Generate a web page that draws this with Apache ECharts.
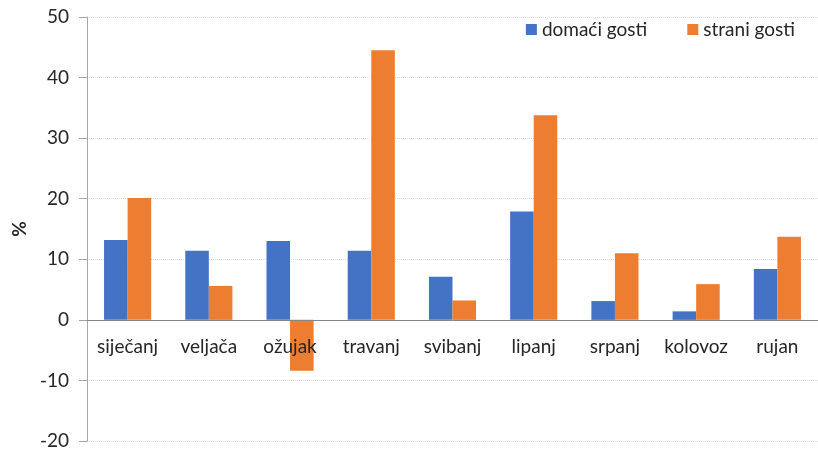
<!DOCTYPE html>
<html>
<head>
<meta charset="utf-8">
<script src="https://cdn.jsdelivr.net/npm/echarts@6/dist/echarts.min.js"></script>
<style>
  html, body { margin: 0; padding: 0; background: #fff; }
  #chart { width: 818px; height: 453px; }
</style>
</head>
<body>
<div id="chart"></div>
<script>
  // podaci
  var months = ['siječanj', 'veljača', 'ožujak', 'travanj', 'svibanj', 'lipanj', 'srpanj', 'kolovoz', 'rujan'];
  var domaci = [13.2, 11.4, 13.0, 11.4, 7.1, 17.9, 3.1, 1.4, 8.4];
  var strani = [20.1, 5.6, -8.4, 44.5, 3.2, 33.8, 11.0, 5.9, 13.7];
  var seriesNames = ['domaći gosti', 'strani gosti'];

  var chart = echarts.init(document.getElementById('chart'));
  var font = 'Lato, "Open Sans", sans-serif';

  var option = {
    animation: false,
    color: ['#4472C4', '#ED7D31'],
    textStyle: { fontFamily: font },
    legend: {
      data: seriesNames,
      right: 18,
      top: 15,
      itemWidth: 11,
      itemHeight: 11,
      itemGap: 40,
      icon: 'rect',
      textStyle: { fontSize: 19, color: '#262626', fontFamily: font }
    },
    grid: { left: 87, right: 0, top: 17, bottom: 12, containLabel: false, outerBoundsMode: 'none' },
    xAxis: {
      type: 'category',
      data: months,
      z: 5,
      // os kategorija pomaknuta na nulu (-20..0 = 121 px)
      offset: -121,
      axisLine: { onZero: false, lineStyle: { color: '#868686', width: 1 } },
      axisTick: { show: false },
      axisLabel: { margin: 17, fontSize: 19, color: '#262626', fontFamily: font, interval: 0 }
    },
    yAxis: {
      type: 'value',
      min: -20,
      max: 50,
      interval: 10,
      name: '%',
      nameLocation: 'middle',
      nameGap: 58,
      nameTextStyle: { fontSize: 19, fontWeight: 'bold', color: '#262626', fontFamily: font },
      axisLine: { show: true, lineStyle: { color: '#a6a6a6' } },
      axisTick: { show: true, length: 8, lineStyle: { color: '#a6a6a6' } },
      axisLabel: { fontSize: 19, color: '#262626', margin: 18, fontFamily: font },
      splitLine: { lineStyle: { color: '#d9d9d9', type: 'dotted' } }
    },
    series: [
      {
        name: seriesNames[0],
        type: 'bar',
        data: domaci,
        barGap: '0%',
        barCategoryGap: '42%'
      },
      {
        name: seriesNames[1],
        type: 'bar',
        data: strani,
        barGap: '0%',
        barCategoryGap: '42%'
      }
    ]
  };

  chart.setOption(option);
</script>
</body>
</html>
